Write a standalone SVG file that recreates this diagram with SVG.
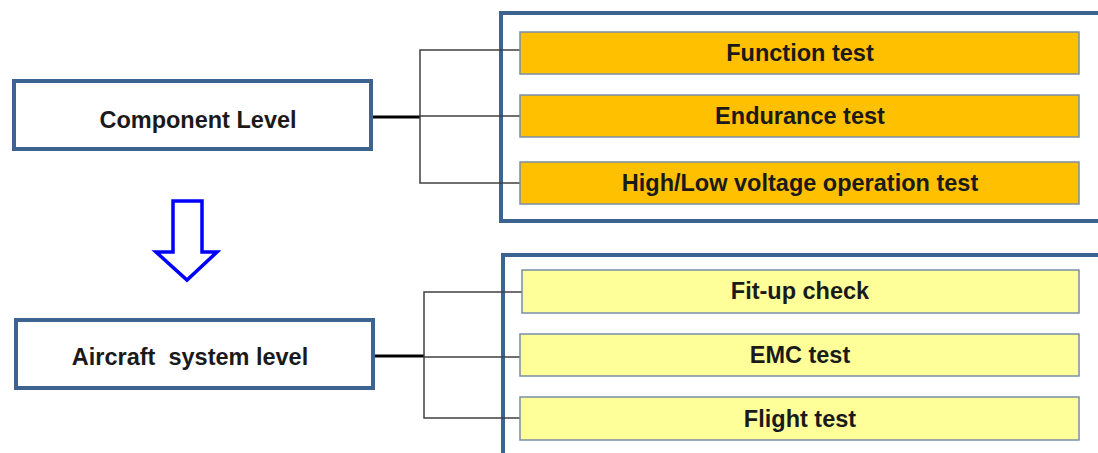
<svg xmlns="http://www.w3.org/2000/svg" width="1098" height="453" viewBox="0 0 1098 453">
<style>
.frame{fill:none;stroke:#3d6391;stroke-width:4}
.lvl{fill:#ffffff;stroke:#3d6391;stroke-width:4}
.orange{fill:#ffc000;stroke:#7a8fa8;stroke-width:1.5}
.yellow{fill:#ffff99;stroke:#7a8fa8;stroke-width:1.5}
.t{font-family:"Liberation Sans",Arial,sans-serif;font-weight:bold;font-size:23.5px;fill:#1a1a1a;text-anchor:middle}
.c{fill:none;stroke:#404040;stroke-width:1.5}
.ct{fill:none;stroke:#000000;stroke-width:3}
</style>
<rect width="1098" height="453" fill="#ffffff"/>
<g id="containers">
<rect class="frame" x="501" y="13" width="620" height="208"/>
<rect class="frame" x="503" y="255" width="620" height="220"/>
</g>
<g id="connectors">
<line class="ct" x1="372" y1="117" x2="420" y2="117"/>
<path class="c" d="M520 50 H420 V183 H520 M420 116 H520"/>
<line class="ct" x1="375" y1="356" x2="424" y2="356"/>
<path class="c" d="M523 292 H424 V418 H523 M424 357 H522"/>
</g>
<g id="component-level">
<rect class="lvl" x="14" y="81" width="357" height="68"/>
<text class="t" x="198" y="128">Component Level</text>
</g>
<g id="aircraft-system-level">
<rect class="lvl" x="16" y="320" width="357" height="68"/>
<text class="t" x="190" y="365" xml:space="preserve">Aircraft  system level</text>
</g>
<g id="arrow">
<path d="M173 201 H202 V252 H217 L187 280 L156 252 H173 Z" fill="#ffffff" stroke="#0000ff" stroke-width="3.5" stroke-linejoin="miter"/>
</g>
<g id="function-test">
<rect class="orange" x="520" y="32" width="559" height="42"/>
<text class="t" x="800" y="61">Function test</text>
</g>
<g id="endurance-test">
<rect class="orange" x="520" y="95" width="559" height="42"/>
<text class="t" x="800" y="124">Endurance test</text>
</g>
<g id="voltage-test">
<rect class="orange" x="520" y="162" width="559" height="42"/>
<text class="t" x="800" y="191">High/Low voltage operation test</text>
</g>
<g id="fitup-check">
<rect class="yellow" x="522" y="270" width="557" height="43"/>
<text class="t" x="800" y="299">Fit-up check</text>
</g>
<g id="emc-test">
<rect class="yellow" x="520" y="334" width="559" height="42"/>
<text class="t" x="800" y="363">EMC test</text>
</g>
<g id="flight-test">
<rect class="yellow" x="520" y="397" width="559" height="43"/>
<text class="t" x="800" y="427">Flight test</text>
</g>
</svg>
